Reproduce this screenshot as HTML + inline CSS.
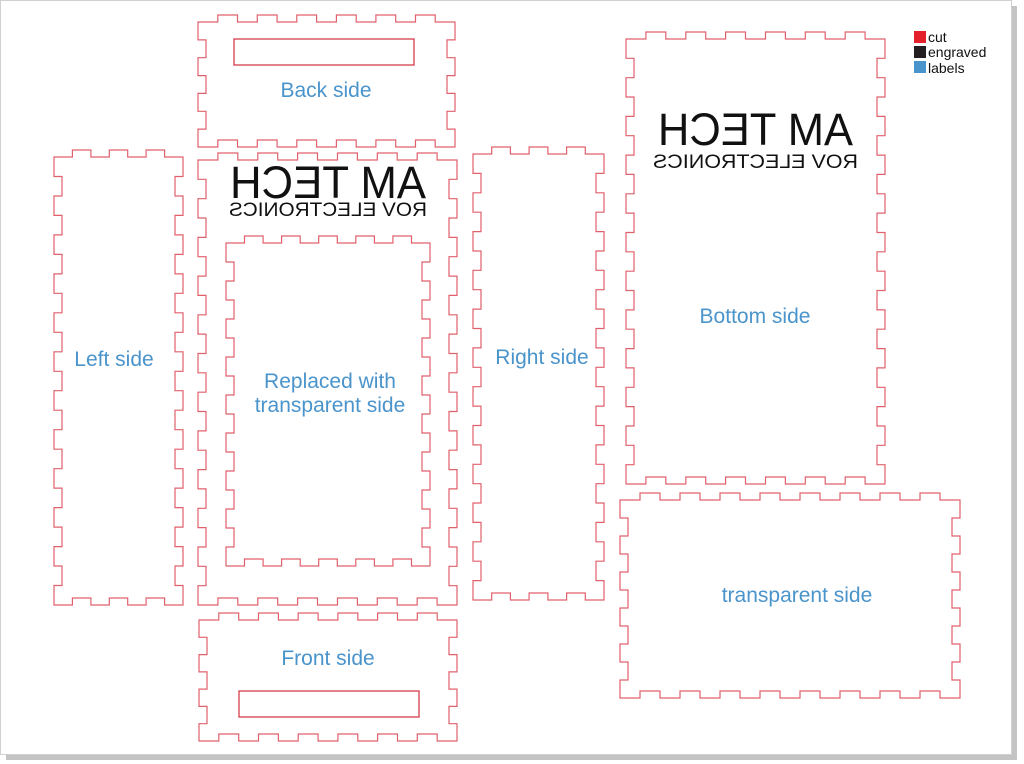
<!DOCTYPE html>
<html><head><meta charset="utf-8"><style>
html,body{margin:0;padding:0;background:#fff;width:1024px;height:764px;overflow:hidden;font-family:"Liberation Sans",sans-serif}
#shadow{position:absolute;left:6px;top:6px;width:1011px;height:754px;background:#c4c4c4}
#page{position:absolute;left:0;top:0;width:1010px;height:753px;background:#fff;border:1px solid #d0d0d0}
svg{position:absolute;left:0;top:0}
.lbl{fill:#4a94cc;font-size:21px;text-anchor:middle;font-family:"Liberation Sans",sans-serif}
</style></head><body>
<div id="shadow"></div><div id="page"></div>
<svg id="s" width="1024" height="764" xmlns="http://www.w3.org/2000/svg">
<g id="cuts" fill="none" stroke="#e0606c" stroke-width="1.2"></g>
<rect x="234" y="39" width="180" height="26" fill="none" stroke="#d0303c" stroke-width="1.2"/>
<rect x="239" y="691" width="180" height="26" fill="none" stroke="#d0303c" stroke-width="1.2"/>
<text class="lbl" x="326" y="97">Back side</text>
<text class="lbl" x="328" y="665">Front side</text>
<text class="lbl" x="114" y="366">Left side</text>
<text class="lbl" x="542" y="364">Right side</text>
<text class="lbl" x="755" y="323">Bottom side</text>
<text class="lbl" x="797" y="602">transparent side</text>
<text class="lbl" x="330" y="388">Replaced with</text>
<text class="lbl" x="330" y="412">transparent side</text>
<g transform="translate(656,0) scale(-1,1)">
<text x="230" y="198" font-size="45" fill="#111" textLength="196" lengthAdjust="spacingAndGlyphs" font-family="Liberation Sans,sans-serif">AM TECH</text>
<text x="229" y="216" font-size="19" fill="#111" textLength="198" lengthAdjust="spacingAndGlyphs" font-family="Liberation Sans,sans-serif">ROV ELECTRONICS</text>
</g>
<g transform="translate(1510,0) scale(-1,1)">
<text x="657" y="145" font-size="45" fill="#111" textLength="195" lengthAdjust="spacingAndGlyphs" font-family="Liberation Sans,sans-serif">AM TECH</text>
<text x="652" y="168" font-size="19" fill="#111" textLength="205" lengthAdjust="spacingAndGlyphs" font-family="Liberation Sans,sans-serif">ROV ELECTRONICS</text>
</g>
<rect x="914" y="31" width="12" height="12" fill="#e3202a"/>
<rect x="914" y="46" width="12" height="12" fill="#231f20"/>
<rect x="914" y="61" width="12" height="12" fill="#4a94cc"/>
<text x="928" y="42" font-size="14" fill="#111">cut</text>
<text x="928" y="57" font-size="14" fill="#111">engraved</text>
<text x="928" y="73" font-size="14" fill="#111">labels</text>
</svg>
<script>
function panel(X0,X1,Y0,Y1,nt,ns){
  var p=[],i,w=(X1-X0)/nt,h=(Y1-Y0)/ns;
  for(i=0;i<nt;i++){var y=(i%2)?Y0-7:Y0;p.push([X0+i*w,y],[X0+(i+1)*w,y]);}
  for(i=0;i<ns;i++){var x=(i%2)?X1-8:X1;p.push([x,Y0+i*h],[x,Y0+(i+1)*h]);}
  for(i=0;i<nt;i++){var y=(i%2)?Y1-7:Y1;p.push([X1-i*w,y],[X1-(i+1)*w,y]);}
  for(i=0;i<ns;i++){var x=(i%2)?X0+8:X0;p.push([x,Y1-i*h],[x,Y1-(i+1)*h]);}
  var d="M"+p.map(function(q){return q[0].toFixed(1)+" "+q[1].toFixed(1)}).join(" L")+"Z";
  var e=document.createElementNS("http://www.w3.org/2000/svg","path");
  e.setAttribute("d",d);document.getElementById("cuts").appendChild(e);
}
panel(198,455,22,147,13,7);
panel(198,457,160,605,13,23);
panel(226,430,243,566,11,17);
panel(199,457,620,741,13,7);
panel(54,183,157,605,7,23);
panel(473,604,154,600,7,23);
panel(626,885,39,484,13,23);
panel(620,960,500,698,17,11);
</script>
</body></html>
